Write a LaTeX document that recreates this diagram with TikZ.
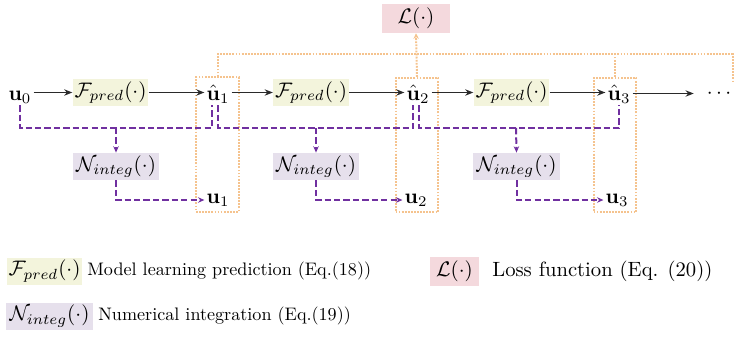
\documentclass[tikz,border=0pt]{standalone}
\usepackage{graphicx}
\usetikzlibrary{arrows.meta,calc}
\definecolor{fyel}{HTML}{F3F4DC}
\definecolor{nlav}{HTML}{E6E0EC}
\definecolor{lpink}{HTML}{F4D9DD}
\definecolor{ppl}{HTML}{7030A0}
\definecolor{org}{HTML}{F5C38E}
\definecolor{blk}{HTML}{2A2A2A}
\newcommand{\mymath}[1]{\scalebox{1.16}{$#1$}}
\begin{document}
\begin{tikzpicture}[x=0.552pt,y=-0.552pt,
 fbox/.style={fill=fyel,minimum width=41.4pt,minimum height=14.9pt,inner sep=1pt},
 nbox/.style={fill=nlav,minimum width=48pt,minimum height=14.9pt,inner sep=1pt},
 lbox/.style={fill=lpink,minimum height=16pt,inner sep=1pt},
 var/.style={inner sep=1pt,anchor=base},
 uvar/.style={inner sep=1pt},
 obox/.style={draw=org,line width=1.1pt,dash pattern=on 1pt off 0.7pt,minimum width=23.7pt,minimum height=74pt,inner sep=0pt},
 oline/.style={draw=org,line width=1.1pt,dash pattern=on 1pt off 0.7pt},
 barrow/.style={draw=blk,line width=1.1pt,-{Stealth[length=4.5pt,width=3.5pt]}},
 pdash/.style={draw=ppl,line width=1.1pt,dash pattern=on 3.5pt off 1.7pt},
 parrow/.style={pdash,-{Stealth[length=3.5pt,width=3pt]}},
 txt/.style={inner sep=0pt,anchor=west},
]
\useasboundingbox (0,0) rectangle (747,336);
% orange boxes
\node[obox] (b1) at (217.5,144.5) {};
\node[obox] (b2) at (417,145) {};
\node[obox] (b3) at (615,145) {};
% top row
\node[var] (u0) at (20,100) {\mymath{\mathbf{u}_0}};
\node[fbox] (F1) at (110.5,92.5) {\mymath{\mathcal{F}_{pred}(\cdot)}};
\node[var] (uh1) at (218,100) {\mymath{\hat{\mathbf{u}}_1}};
\node[fbox] (F2) at (311,92.5) {\mymath{\mathcal{F}_{pred}(\cdot)}};
\node[var] (uh2) at (418,100) {\mymath{\hat{\mathbf{u}}_2}};
\node[fbox] (F3) at (511.5,92.5) {\mymath{\mathcal{F}_{pred}(\cdot)}};
\node[var] (uh3) at (619,100) {\mymath{\hat{\mathbf{u}}_3}};
\node[inner sep=0pt] (dots) at (719,93.5) {\mymath{\cdots}};
% integ
\node[nbox] (N1) at (116,166.5) {\mymath{\mathcal{N}_{integ}(\cdot)}};
\node[nbox] (N2) at (316,166.5) {\mymath{\mathcal{N}_{integ}(\cdot)}};
\node[nbox] (N3) at (516.5,166.5) {\mymath{\mathcal{N}_{integ}(\cdot)}};
\node[uvar] (u1) at (218,200) {\mymath{\mathbf{u}_1}};
\node[uvar] (u2) at (416,200) {\mymath{\mathbf{u}_2}};
\node[uvar] (u3) at (617,200) {\mymath{\mathbf{u}_3}};
% loss
\node[lbox,minimum width=37.5pt] (L) at (416,18.5) {\mymath{\mathcal{L}(\cdot)}};
% black arrows
\draw[barrow] (u0.east |- F1.west) -- (F1.west);
\draw[barrow] (F1.east) -- (F1.east -| uh1.west);
\draw[barrow] (uh1.east |- F2.west) -- (F2.west);
\draw[barrow] (F2.east) -- (F2.east -| uh2.west);
\draw[barrow] (uh2.east |- F3.west) -- (F3.west);
\draw[barrow] (F3.east) -- (F3.east -| uh3.west);
\draw[barrow,shorten >=7pt] (uh3.east |- dots.west) -- (dots.west);
% orange connectors
\coordinate (oend) at (733,82);
\draw[oline] (b1.north) -- ++(0,-22) -| (oend);
\draw[oline] (b3.north) -- ++(0,-23);
\draw[oline,-{Stealth[length=3pt,width=3pt]}] (b2.north) -- (L.south);
% purple dashed
\coordinate (j1) at (116,128);
\coordinate (j2) at (316,128);
\coordinate (j3) at (516,128);
\draw[pdash] (u0.south) |- (j1) -| ($(uh1.south)+(-6,0)$);
\draw[pdash] (uh1.south) |- (j2) -| ($(uh2.south)+(-5,0)$);
\draw[pdash] ($(uh2.south)+(1,0)$) |- (j3) -| (uh3.south);
\draw[parrow] (j1) -- (N1.north);
\draw[parrow] (j2) -- (N2.north);
\draw[parrow] (j3) -- (N3.north);
\draw[parrow] (N1.south) |- (u1.west);
\draw[parrow] (N2.south) |- (u2.west);
\draw[parrow] (N3.south) |- (u3.west);
% legend
\node[fbox] (LF) at (44.5,271) {\mymath{\mathcal{F}_{pred}(\cdot)}};
\node[txt] (LFt) at (87,271) {Model learning prediction (Eq.(18))};
\node[nbox] (LN) at (49.5,316) {\mymath{\mathcal{N}_{integ}(\cdot)}};
\node[txt] (LNt) at (98,316) {Numerical integration (Eq.(19))};
\node[lbox,minimum width=27pt] (LL) at (454.5,271.5) {\mymath{\mathcal{L}(\cdot)}};
\node[txt] (LLt) at (492,271.5) {\scalebox{1.14}{Loss function (Eq. (20))}};
\end{tikzpicture}
\end{document}
